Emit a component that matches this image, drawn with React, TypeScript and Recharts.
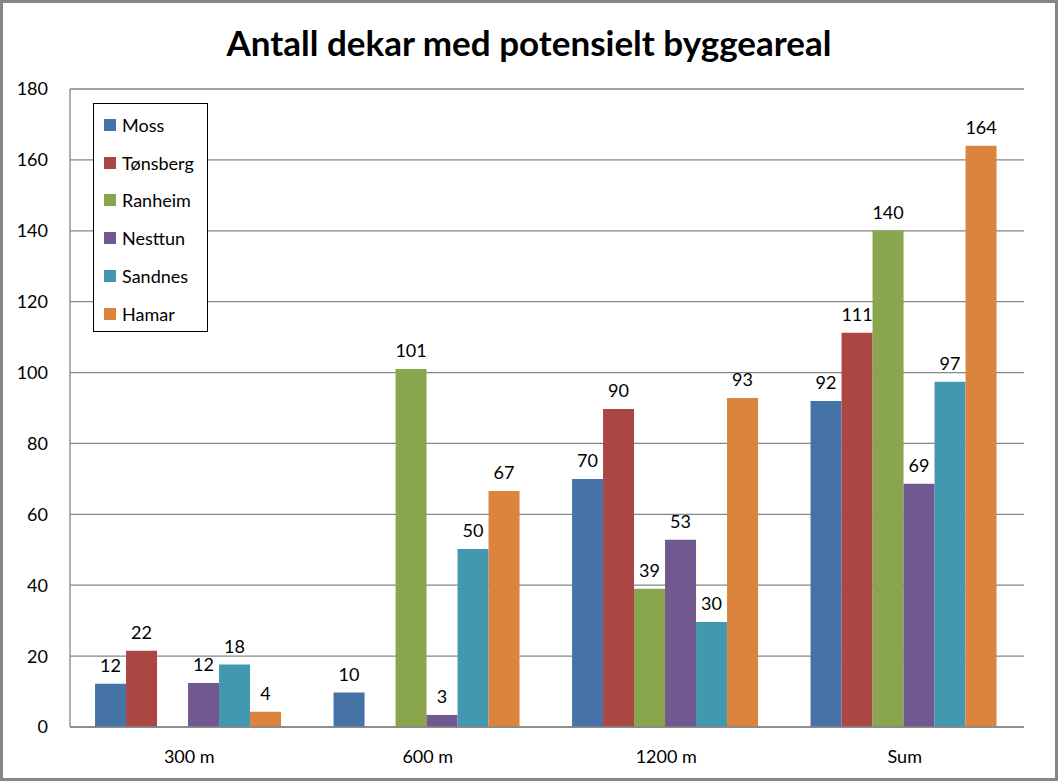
import { Bar, BarChart, CartesianGrid, LabelList, XAxis, YAxis } from "recharts";

const categories = ["300 m", "600 m", "1200 m", "Sum"];
const series = ["Moss", "Tønsberg", "Ranheim", "Nesttun", "Sandnes", "Hamar"];

const moss = [12.2, 9.7, 70, 92];
const tonsberg = [21.5, null, 89.7, 111.2];
const ranheim = [null, 101, 39, 140];
const nesttun = [12.4, 3.4, 52.8, 68.6];
const sandnes = [17.6, 50.2, 29.6, 97.4];
const hamar = [4.3, 66.6, 92.8, 164];

const yTicks = [0, 20, 40, 60, 80, 100, 120, 140, 160, 180];

const COLORS = ["#4572A7", "#AA4643", "#89A54E", "#71588F", "#4198AF", "#DB843D"];
const FONT = "Lato, 'Open Sans', sans-serif";

const values = [moss, tonsberg, ranheim, nesttun, sandnes, hamar];
const data = categories.map((cat, i) => {
  const row: Record<string, string | number | null> = { cat };
  series.forEach((s, j) => {
    row[s] = values[j][i];
  });
  return row;
});

function LegendBox() {
  return (
    <div
      style={{
        position: "absolute",
        left: 93,
        top: 103,
        border: "1px solid #000",
        background: "#fff",
        width: 115,
        height: 229,
        boxSizing: "border-box",
        paddingTop: 2,
        fontFamily: FONT,
        fontSize: 18,
      }}
    >
      {series.map((s, i) => (
        <div key={s} style={{ display: "flex", alignItems: "center", height: 37.8 }}>
          <span
            style={{
              display: "inline-block",
              width: 12,
              height: 12,
              background: COLORS[i],
              marginLeft: 10,
              marginRight: 6,
            }}
          />
          <span>{s}</span>
        </div>
      ))}
    </div>
  );
}

export default function App() {
  return (
    <div
      style={{
        position: "fixed",
        left: 0,
        top: 0,
        width: 1058,
        height: 781,
        boxSizing: "border-box",
        border: "3px solid #868686",
        background: "#fff",
      }}
    >
      <div style={{ position: "absolute", left: -3, top: -3 }}>
        <BarChart
          width={1058}
          height={781}
          data={data}
          margin={{ top: 89, right: 34, left: 8, bottom: 14 }}
          barCategoryGap="10.5%"
          barGap={0}
        >
          <CartesianGrid vertical={false} stroke="#868686" strokeWidth={1.3} />
          <XAxis
            dataKey="cat"
            height={40}
            tickLine={false}
            axisLine={{ stroke: "#868686", strokeWidth: 1.3 }}
            tick={{ fontSize: 18, fill: "#000", fontFamily: FONT }}
            tickMargin={17}
          />
          <YAxis
            width={62}
            domain={[0, 180]}
            ticks={yTicks}
            tickLine={false}
            axisLine={{ stroke: "#868686", strokeWidth: 1.3 }}
            tick={{ fontSize: 18, fill: "#000", fontFamily: FONT }}
            tickMargin={16}
          />
          {series.map((s, i) => (
            <Bar key={s} dataKey={s} fill={COLORS[i]} isAnimationActive={false}>
              <LabelList
                dataKey={s}
                position="top"
                offset={12}
                formatter={(v: number | null) => (v == null ? "" : Math.round(v))}
                style={{ fontSize: 18, fill: "#000", fontFamily: FONT }}
              />
            </Bar>
          ))}
        </BarChart>
        <div
          style={{
            position: "absolute",
            top: 21,
            left: 0,
            width: 1058,
            textAlign: "center",
            fontFamily: FONT,
            fontWeight: 700,
            fontSize: 35,
            color: "#000",
          }}
        >
          Antall dekar med potensielt byggeareal
        </div>
        <LegendBox />
      </div>
    </div>
  );
}
